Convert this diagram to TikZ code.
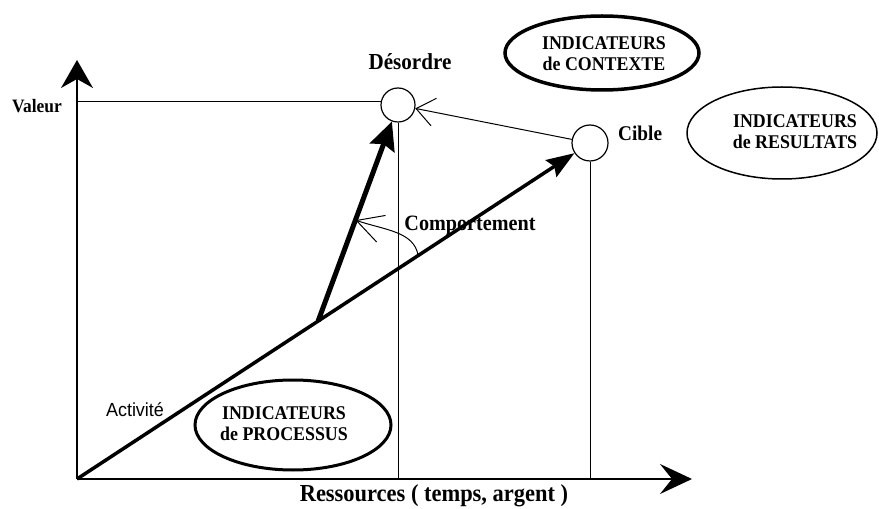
\documentclass[tikz,border=0pt]{standalone}
\usepackage{fontspec}
\setmainfont[FakeStretch=0.92]{Liberation Serif}
\newfontfamily\actfont[FakeStretch=0.95]{Liberation Sans}
\usetikzlibrary{arrows.meta,shapes.geometric,calc}
\begin{document}
\begin{tikzpicture}[x=1bp,y=-1bp,
  lbl/.style={inner sep=0pt, font=\bfseries\fontsize{#1}{#1}\selectfont},
  ell/.style={draw, ellipse, inner sep=0pt},
  etxt/.style={align=center, inner sep=0pt, font=\bfseries\fontsize{19.5}{21}\selectfont},
  dot/.style={draw, circle, line width=1.2bp, inner sep=0pt},
  guide/.style={line width=1bp},
  axis/.style={line width=1.5bp},
]
\useasboundingbox (0,0) rectangle (879,509);
\coordinate (O) at (77,479);
\coordinate (ytip) at (77,60);
\coordinate (xtip) at (692,479);
\node[dot, minimum size=34bp] (des) at (398,105) {};
\node[dot, minimum size=36bp] (cib) at (590,143) {};
% axes
\draw[axis, -{Stealth[length=28bp,width=32bp,inset=9bp]}] (O) -- (ytip);
\draw[axis, -{Stealth[length=32bp,width=30bp,inset=12bp]}] (O) -- (xtip);
% guide lines
\draw[guide] (des.167) -- (des.167 -| O);
\draw[guide] (des.south) -- (des.south |- O);
\draw[guide] (cib.south) -- (cib.south |- O);
% activity and behaviour
\draw[line width=3.5bp, -{Stealth[length=28bp,width=20bp,inset=4bp]}] (O) -- (cib);
\coordinate (K) at ($(O)!0.47!(cib)$);
\draw[line width=5bp, -{Stealth[length=28bp,width=26bp,inset=4bp]}] (K) -- (des);
\draw[guide, -{Straight Barb[length=18bp,width=28bp]}] (cib) -- (des);
\coordinate (A) at ($(O)!0.665!(cib)$);
\coordinate (B) at ($(K)!0.467!(des)$);
\draw[guide, -{Straight Barb[length=26bp,width=28bp]}] (A) .. controls ($(A)+(-4,-24)$) and ($(B)+(30,10)$) .. (B);
% labels
\node[lbl=23] (desL) at (410,62) {Désordre};
\node[lbl=21, anchor=west] (cibL) at (618,133) {Cible};
\node[lbl=19] (valL) at (37,106) {Valeur};
\node[lbl=22] (compL) at (470,226) {Comportement};
\node[inner sep=0pt, font=\actfont\fontsize{19}{19}\selectfont] (actL) at (135,410) {Activité};
\node[lbl=24.5] (resL) at (434,496) {Ressources ( temps, argent )};
% indicator ellipses
\node[ell, line width=3.5bp, minimum width=194bp, minimum height=74bp] (ctxE) at (602,53) {};
\node[etxt] (ctxT) at (604,54) {INDICATEURS\\de CONTEXTE};
\node[ell, line width=1.5bp, minimum width=190bp, minimum height=92bp] (resE) at (782,133) {};
\node[etxt] (resT) at (795,132) {INDICATEURS\\de RESULTATS};
\node[ell, line width=3bp, minimum width=196bp, minimum height=90bp] (proE) at (293,425) {};
\node[etxt] (proT) at (284,424) {INDICATEURS\\de PROCESSUS};
\end{tikzpicture}
\end{document}
